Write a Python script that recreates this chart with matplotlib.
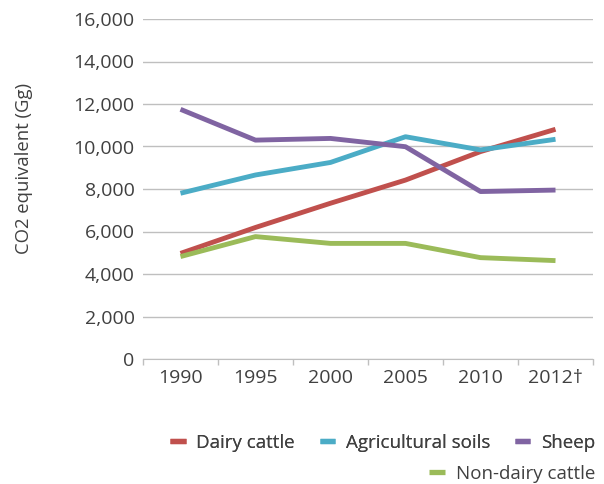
import matplotlib
matplotlib.use("Agg")
import matplotlib.pyplot as plt
from matplotlib.lines import Line2D
import numpy as np

years = ["1990", "1995", "2000", "2005", "2010", "2012\u2020"]
dairy = [4970, 6190, 7330, 8420, 9760, 10810]
agri = [7800, 8660, 9250, 10460, 9840, 10340]
sheep = [11750, 10300, 10380, 9990, 7880, 7950]
nondairy = [4820, 5760, 5440, 5440, 4770, 4630]

series = [("Dairy cattle", dairy, "#C0504D"),
          ("Agricultural soils", agri, "#4BACC6"),
          ("Sheep", sheep, "#8064A2"),
          ("Non-dairy cattle", nondairy, "#9BBB59")]

plt.rcParams['font.family'] = ['Open Sans', 'DejaVu Sans']
txt = "#404040"
fs = 14
lfs = 13.5

fig = plt.figure(figsize=(6.04, 4.84), dpi=100)
ax = fig.add_axes([143/604, 1-359/484, 450/604, 340/484])
x = np.arange(len(years))
handles = []
for name, vals, col in series:
    ax.plot(x, vals, color=col, lw=3.5, solid_capstyle='butt', solid_joinstyle='round')
    handles.append(Line2D([0], [0], color=col, lw=3.8, solid_capstyle='butt'))

ax.set_xlim(-0.5, len(years) - 0.5)
ax.set_ylim(0, 16000)
ax.set_yticks(np.arange(0, 16001, 2000))
ax.set_yticklabels([f"{v:,}" for v in range(0, 16001, 2000)])
ax.set_xticks(x)
ax.set_xticklabels(years)
ax.set_xticks(np.arange(-0.5, len(years), 1), minor=True)
ax.tick_params(axis='x', which='major', length=0, pad=7, labelsize=fs, labelcolor=txt)
ax.tick_params(axis='x', which='minor', length=4, color="#BFBFBF", width=1)
ax.tick_params(axis='y', length=0, pad=6, labelsize=fs, labelcolor=txt)
ax.grid(axis='y', color="#BFBFBF", lw=1)
ax.set_axisbelow(True)
for s in ['top', 'right', 'left']:
    ax.spines[s].set_visible(False)
ax.spines['bottom'].set_color("#BFBFBF")
ax.set_ylabel("CO2 equivalent (Gg)", fontsize=13.3, color=txt)
ax.yaxis.set_label_coords(-(143-33)/450, (359-168)/340)

leg1 = fig.legend(handles[:3], [s[0] for s in series[:3]], loc='center right',
                  bbox_to_anchor=(595/604, 1-443/484), ncol=3, frameon=False,
                  fontsize=lfs, handlelength=0.85, handletextpad=0.55, columnspacing=1.3,
                  labelcolor=txt, borderaxespad=0, borderpad=0)
leg2 = fig.legend(handles[3:], [series[3][0]], loc='center right',
                  bbox_to_anchor=(595/604, 1-474/484), frameon=False,
                  fontsize=lfs, handlelength=0.85, handletextpad=0.55,
                  labelcolor=txt, borderaxespad=0, borderpad=0)
fig.add_artist(leg1)

fig.savefig("out.png", dpi=100)
